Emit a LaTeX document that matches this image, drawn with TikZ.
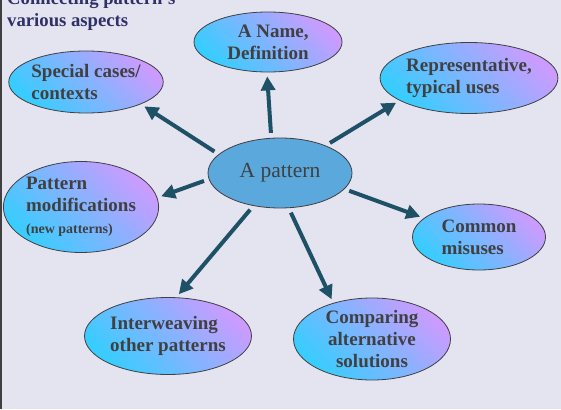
\documentclass[tikz,border=0pt]{standalone}
\usepackage{fontspec}
\setmainfont{Liberation Serif}
\usetikzlibrary{shapes.geometric,arrows.meta}
\definecolor{bgpanel}{RGB}{228,227,240}
\definecolor{linkcol}{RGB}{30,80,102}
\definecolor{inkgray}{RGB}{64,64,64}
\definecolor{titlecol}{RGB}{48,48,104}
\definecolor{hubfill}{RGB}{90,168,220}
\definecolor{cyanend}{RGB}{55,205,255}
\definecolor{lilacend}{RGB}{204,155,255}
\tikzset{
  aspect/.style={ellipse,draw=inkgray,line width=0.8pt,inner sep=0pt,
    top color=lilacend,bottom color=cyanend,shading angle=-45,
    text=inkgray,font=\fontsize{19}{22}\selectfont\bfseries},
  hub/.style={ellipse,draw=inkgray,line width=0.8pt,inner sep=0pt,fill=hubfill,
    text=inkgray,font=\fontsize{21.5}{24}\selectfont},
  link/.style={linkcol,line width=4pt,-{Triangle[length=14pt,width=14pt]},
    shorten <=5pt,shorten >=4pt}
}
\begin{document}
\begin{tikzpicture}[x=1pt,y=-1pt]
\fill[bgpanel] (0,0) rectangle (561,409);
\useasboundingbox (0,0) rectangle (561,409);
\draw[inkgray,line width=2.5pt] (1.2,0) -- (1.2,409);
\node[anchor=south west,inner sep=0pt,align=left,text=titlecol,font=\fontsize{18.7}{22}\selectfont\bfseries] (title) at (7,31) {Connecting pattern's\\various aspects};
\node[hub,minimum width=144pt,minimum height=70pt] (c) at (280,173) {A pattern};
\node[aspect,align=right,minimum width=148pt,minimum height=60pt] (name) at (268,42) {A Name,\\Definition};
\node[aspect,align=left,minimum width=143pt,minimum height=62pt] (spec) at (86,82) {Special cases/\\contexts};
\node[aspect,align=left,minimum width=153pt,minimum height=71pt] (rep) at (469,78) {Representative,\\typical uses};
\node[aspect,align=left,minimum width=143pt,minimum height=91pt] (mod) at (81,207) {Pattern\\modifications\\{\fontsize{14}{18}\selectfont (new patterns)}};
\node[aspect,align=left,minimum width=133pt,minimum height=66pt] (com) at (479,237) {Common\\misuses};
\node[aspect,align=left,minimum width=167pt,minimum height=77pt] (inter) at (168,336) {Interweaving\\other patterns};
\node[aspect,align=center,minimum width=157pt,minimum height=82pt] (comp) at (372,339) {Comparing\\alternative\\solutions};
\draw[link] (c.104) -- (name.268);
\draw[link] (c.163) -- (spec.-22);
\draw[link] (c.31) -- (rep.198);
\draw[link] (c.185) -- (mod.7);
\draw[link] (c.-14) -- (com.161);
\draw[link] (c.231) -- (inter.78);
\draw[link] (c.284) -- (comp.137);
\end{tikzpicture}
\end{document}
